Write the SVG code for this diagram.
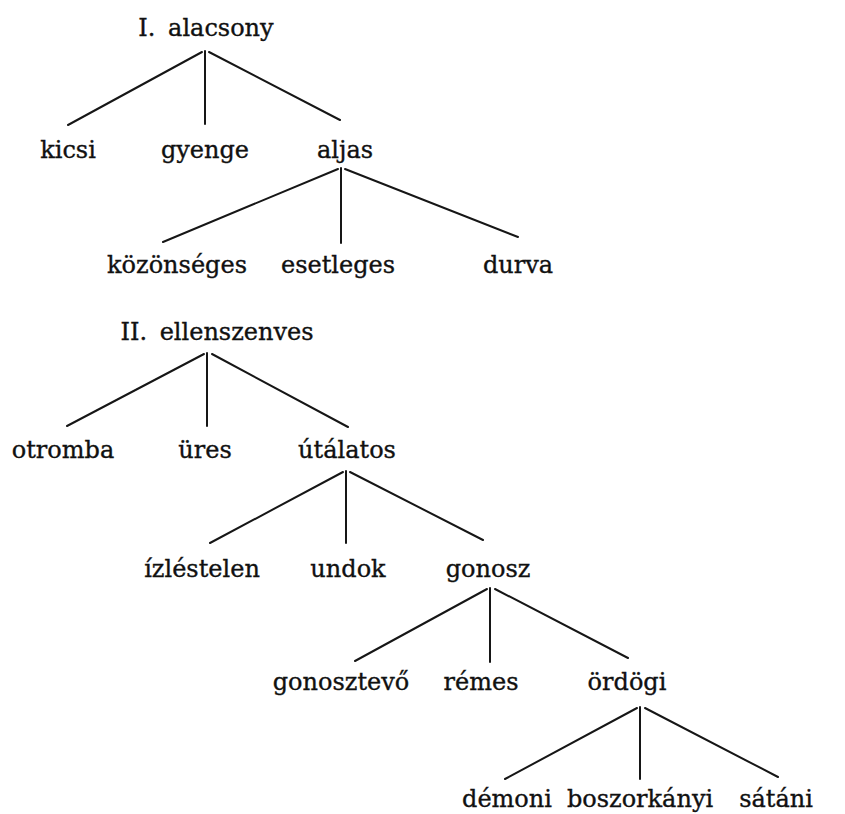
<svg xmlns="http://www.w3.org/2000/svg" width="845" height="814" viewBox="0 0 845 814">
<style>
text{font-family:"DejaVu Serif","Liberation Serif",serif;font-size:24px;fill:#111111;stroke:#111111;stroke-width:0.35;text-anchor:middle}
.c line{stroke:#161616;stroke-width:2;stroke-linecap:round}
</style>
<rect width="845" height="814" fill="#ffffff"/>
<g class="c" id="connectors">
<line x1="202" y1="52" x2="68" y2="125"/>
<line x1="205" y1="51" x2="205" y2="124"/>
<line x1="209" y1="52" x2="340" y2="120"/>
<line x1="338" y1="169" x2="163" y2="242"/>
<line x1="341" y1="168" x2="341" y2="243"/>
<line x1="345" y1="169" x2="518" y2="237"/>
<line x1="204" y1="354" x2="67" y2="426"/>
<line x1="207" y1="353" x2="207" y2="426"/>
<line x1="212" y1="354" x2="348" y2="427"/>
<line x1="343" y1="472" x2="210" y2="543"/>
<line x1="346" y1="471" x2="346" y2="543"/>
<line x1="350" y1="472" x2="483" y2="540"/>
<line x1="487" y1="589" x2="355" y2="661"/>
<line x1="490" y1="588" x2="490" y2="662"/>
<line x1="495" y1="589" x2="628" y2="658"/>
<line x1="637" y1="708" x2="505" y2="779"/>
<line x1="640" y1="707" x2="640" y2="779"/>
<line x1="645" y1="708" x2="778" y2="777"/>
</g>
<g id="n-alacsony"><text x="206" y="36" word-spacing="5">I. alacsony</text></g>
<g id="n-kicsi"><text x="68" y="158">kicsi</text></g>
<g id="n-gyenge"><text x="205" y="158">gyenge</text></g>
<g id="n-aljas"><text x="345" y="158">aljas</text></g>
<g id="n-kozonseges"><text x="177" y="273">közönséges</text></g>
<g id="n-esetleges"><text x="338" y="273">esetleges</text></g>
<g id="n-durva"><text x="518" y="273">durva</text></g>
<g id="n-ellenszenves"><text x="217" y="340" word-spacing="5">II. ellenszenves</text></g>
<g id="n-otromba"><text x="63" y="458">otromba</text></g>
<g id="n-ures"><text x="205" y="458">üres</text></g>
<g id="n-utalatos"><text x="347" y="458">útálatos</text></g>
<g id="n-izlestelen"><text x="202" y="577">ízléstelen</text></g>
<g id="n-undok"><text x="348" y="577">undok</text></g>
<g id="n-gonosz"><text x="488" y="577">gonosz</text></g>
<g id="n-gonosztevo"><text x="341" y="690">gonosztevő</text></g>
<g id="n-remes"><text x="481" y="690">rémes</text></g>
<g id="n-ordogi"><text x="627" y="690">ördögi</text></g>
<g id="n-demoni"><text x="507" y="807">démoni</text></g>
<g id="n-boszorkanyi"><text x="640" y="807">boszorkányi</text></g>
<g id="n-satani"><text x="776" y="807">sátáni</text></g>
</svg>
